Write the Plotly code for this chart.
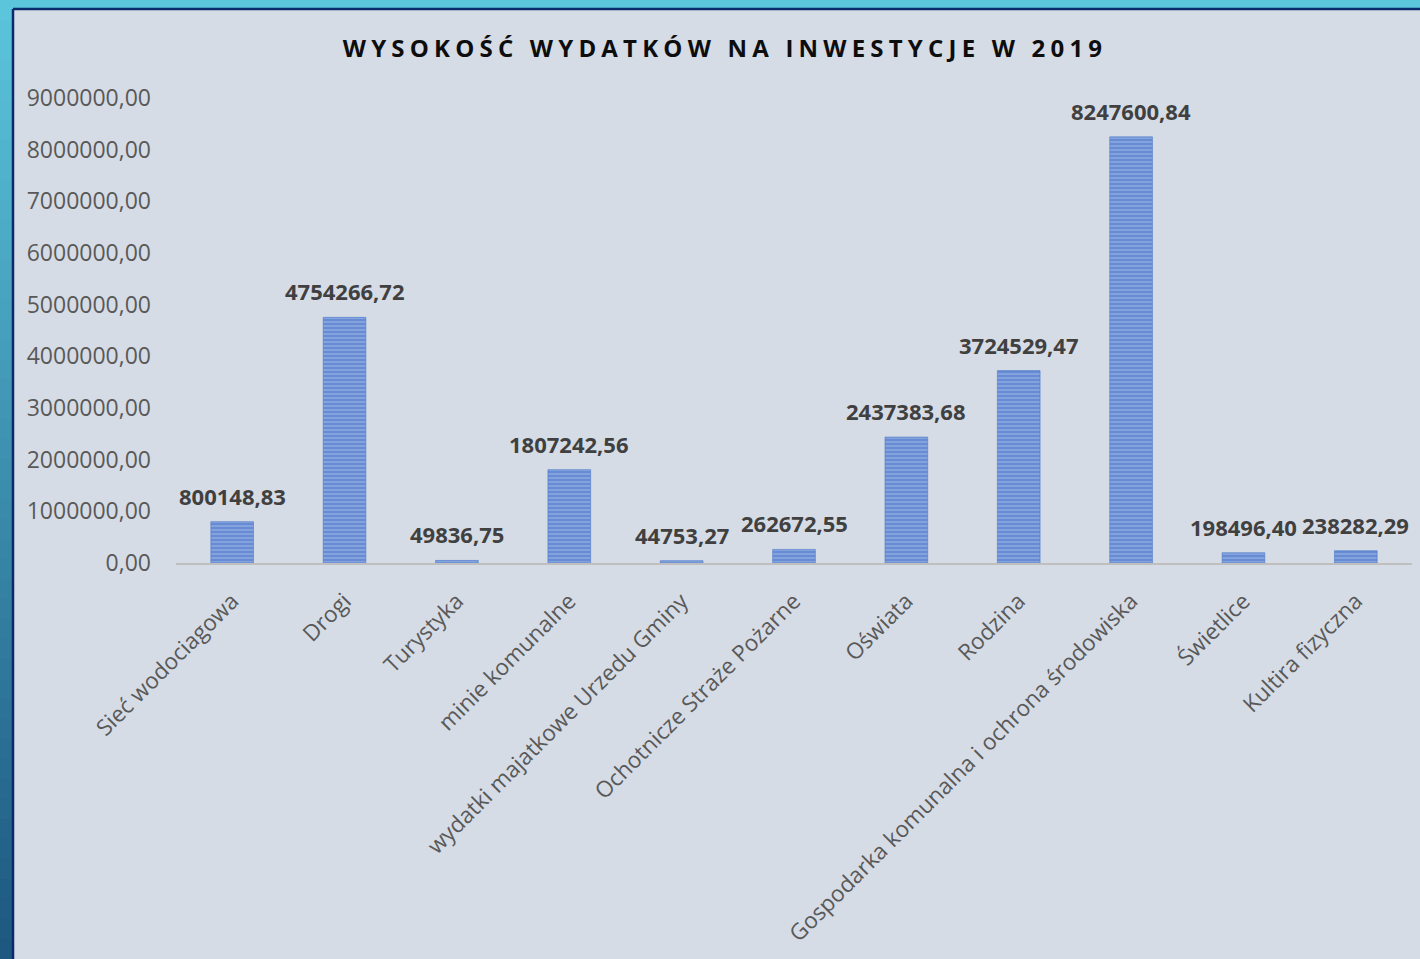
import plotly.graph_objects as go

categories = [
    "Sieć wodociagowa", "Drogi", "Turystyka", "minie komunalne",
    "wydatki majatkowe Urzedu Gminy", "Ochotnicze Straże Pożarne",
    "Oświata", "Rodzina", "Gospodarka komunalna i ochrona środowiska",
    "Świetlice", "Kultira fizyczna",
]
values = [800148.83, 4754266.72, 49836.75, 1807242.56, 44753.27, 262672.55,
          2437383.68, 3724529.47, 8247600.84, 198496.40, 238282.29]
y_ticks = [0, 1000000, 2000000, 3000000, 4000000, 5000000, 6000000, 7000000, 8000000, 9000000]
title_text = "WYSOKOŚĆ WYDATKÓW NA INWESTYCJE W 2019"


def pl_fmt(v):
    return f"{v:.2f}".replace(".", ",")


W, H = 1420, 959
ML, MR, MT, MB = 176, 8, 98, 396
PW, PH = W - ML - MR, H - MT - MB


def px_x(p):
    return (p - ML) / PW


def px_y(p):
    return (H - MB - p) / PH


FONT = "Open Sans"

fig = go.Figure(go.Bar(
    x=categories,
    y=values,
    width=0.38,
    cliponaxis=False,
    hoverinfo="skip",
    marker=dict(
        color="#93AEE4",
        line=dict(color="#4A78CA", width=0.6),
        pattern=dict(shape="-", fgcolor="#3B69C4", size=4, solidity=0.68),
    ),
))

annotations = [
    dict(x=c, y=v, xref="x", yref="y", text=pl_fmt(v), showarrow=False,
         yanchor="middle", yshift=26,
         font=dict(family=FONT, size=22, color="#404040", weight="bold"))
    for c, v in zip(categories, values)
]

shapes = []
n = 48
c_top = (91, 197, 219)
c_bot = (30, 88, 128)
for i in range(n):
    t = i / (n - 1)
    col = tuple(int(c_top[k] + (c_bot[k] - c_top[k]) * t) for k in range(3))
    y0 = H * i / n
    y1 = H * (i + 1) / n + 1
    shapes.append(dict(type="rect", xref="paper", yref="paper",
                       x0=px_x(0), x1=px_x(13), y0=px_y(y1), y1=px_y(y0),
                       fillcolor="rgb(%d,%d,%d)" % col, line=dict(width=0), layer="below"))
shapes.append(dict(type="rect", xref="paper", yref="paper",
                   x0=px_x(0), x1=px_x(W), y0=px_y(9), y1=px_y(0),
                   fillcolor="rgb(91,197,219)", line=dict(width=0), layer="below"))
shapes.append(dict(type="line", xref="paper", yref="paper",
                   x0=px_x(13), x1=px_x(13), y0=px_y(H), y1=px_y(9),
                   line=dict(color="#0B2A6E", width=2.5)))
shapes.append(dict(type="line", xref="paper", yref="paper",
                   x0=px_x(13), x1=px_x(W), y0=px_y(9), y1=px_y(9),
                   line=dict(color="#0B2A6E", width=2.5)))

fig.update_layout(
    width=W, height=H,
    margin=dict(l=ML, r=MR, t=MT, b=MB),
    paper_bgcolor="#D6DCE5",
    plot_bgcolor="#D6DCE5",
    showlegend=False,
    shapes=shapes,
    annotations=annotations,
    title=dict(
        text='<span style="letter-spacing:5.2px">' + title_text + '</span>',
        x=725 / W, xref="container", xanchor="center",
        y=1 - 49 / H, yref="container", yanchor="middle",
        font=dict(family=FONT, size=24, color="#0D0D0D", weight="bold"),
    ),
    xaxis=dict(
        tickangle=-45,
        tickfont=dict(family=FONT, size=22.5, color="#595959"),
        showline=True, linecolor="#BFBFBF", linewidth=2,
        showgrid=False, ticks="", ticklabelstandoff=14,
        fixedrange=True,
    ),
    yaxis=dict(
        range=[0, 9000000],
        tickvals=y_ticks,
        ticktext=[pl_fmt(v) for v in y_ticks],
        tickfont=dict(family=FONT, size=23, color="#595959"),
        showgrid=False, zeroline=False, showline=False, ticks="",
        ticklabelstandoff=24, fixedrange=True,
    ),
)

fig.write_html("out.html", config={"displayModeBar": False},
               post_script="document.body.style.margin='0';")
